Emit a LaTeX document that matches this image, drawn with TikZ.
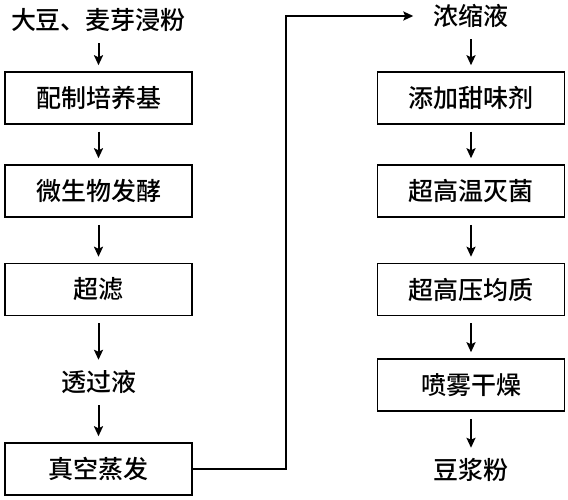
\documentclass[tikz,border=0pt]{standalone}
\usepackage{fontspec}
\setmainfont{Noto Sans CJK SC}[UprightFont=* Medium]
\usetikzlibrary{positioning,arrows.meta}
\tikzset{
  stepbox/.style={draw,line width=1.5pt,minimum width=187pt,minimum height=52pt,inner sep=0pt},
  plain/.style={minimum height=32pt,inner sep=0pt},
  flow/.style={line width=2pt,-{Stealth[length=10pt,width=9pt,inset=2pt]},shorten >=6pt,shorten <=7pt}
}
\begin{document}
\begin{tikzpicture}[x=1pt,y=-1pt,font=\fontsize{25}{30}\selectfont]
      \useasboundingbox (0,0) rectangle (568,500);
      \node (soy) [plain] at (98.5,20) {大豆、麦芽浸粉};
      \node (medium) [stepbox] at (98.5,98) {配制培养基};
      \node (ferment) [stepbox] at (98.5,191) {微生物发酵};
      \node (ultra) [stepbox] at (98.5,289.5) {超滤};
      \node (perm) [plain] at (98.5,382) {透过液};
      \node (vac) [stepbox] at (98.5,469) {真空蒸发};
      \node (conc) [plain] at (471,16) {浓缩液};
      \node (sweet) [stepbox] at (471,98) {添加甜味剂};
      \node (steril) [stepbox] at (471,191) {超高温灭菌};
      \node (homog) [stepbox] at (471,289.5) {超高压均质};
      \node (spray) [stepbox] at (471,385) {喷雾干燥};
      \node (powder) [plain] at (471,470) {豆浆粉};
      \draw[flow] (soy) -- (medium);
      \draw[flow] (medium) -- (ferment);
      \draw[flow] (ferment) -- (ultra);
      \draw[flow] (ultra) -- (perm);
      \draw[flow] (perm) -- (vac);
      \draw[flow,shorten <=0pt,shorten >=20pt] (vac.east) -- ++(93,0) |- (conc.west);
      \draw[flow] (conc) -- (sweet);
      \draw[flow] (sweet) -- (steril);
      \draw[flow] (steril) -- (homog);
      \draw[flow] (homog) -- (spray);
      \draw[flow] (spray) -- (powder);
\end{tikzpicture}
\end{document}
